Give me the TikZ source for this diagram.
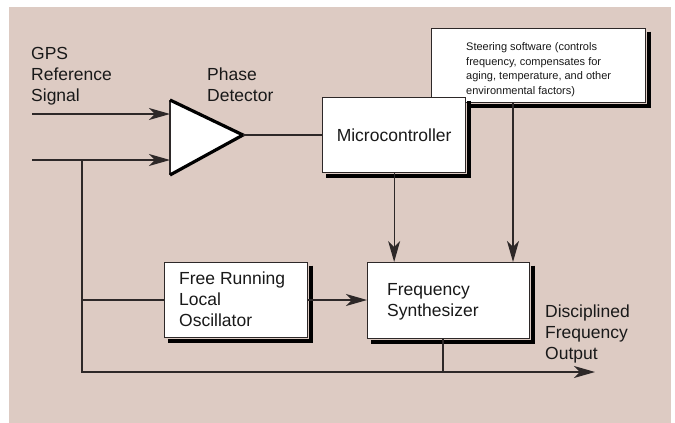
\documentclass[tikz,border=0pt]{standalone}
\usepackage{fontspec}
\setmainfont{Liberation Sans}
\usetikzlibrary{arrows.meta,calc}
\definecolor{bgc}{RGB}{221,203,195}
\definecolor{ln}{RGB}{45,40,40}
\begin{document}
\begin{tikzpicture}[x=1pt,y=-1pt,
  box/.style={draw=ln,line width=1.3pt,fill=white,anchor=north west,inner sep=0pt},
  boxshadow/.style={fill=black},
  shadowline/.style={draw=black,line width=3.6pt,line cap=butt,line join=miter},
  lbl/.style={anchor=base west,inner sep=0pt,align=left,font=\fontsize{17.5}{21}\selectfont,text=black!90},
  small/.style={anchor=base west,inner sep=0pt,align=left,font=\fontsize{11}{14.5}\selectfont,text=black!90},
  wire/.style={draw=ln,line width=1.3pt},
  arr/.style={wire,-{Stealth[length=21pt,width=12pt,inset=6pt]}}]
\useasboundingbox (0,0) rectangle (675,423);
\fill[bgc] (9,7) rectangle (671,423);

% labels (anchored at the baseline of their last line)
\node[lbl] (gps) at (31,101) {GPS\\Reference\\Signal};
\node[lbl] (pdl) at (207,101) {Phase\\Detector};
\node[lbl] (dfo) at (545,359) {Disciplined\\Frequency\\Output};

% boxes
\node[box,minimum width=214pt,minimum height=74pt] (steer) at (431,28) {};
\node[small] (steertxt) at (466,94) {Steering software (controls\\frequency, compensates for\\aging, temperature, and other\\environmental factors)};
\node[box,minimum width=143pt,minimum height=75pt,font=\fontsize{17.5}{21}\selectfont,text=black!90] (micro) at (322,97) {Microcontroller};
\node[box,minimum width=143pt,minimum height=75pt] (fr) at (164,262) {};
\node[lbl] (frtxt) at (179,326) {Free Running\\Local\\Oscillator};
\node[box,minimum width=162pt,minimum height=76pt] (fs) at (367,262) {};
\node[lbl] (fstxt) at (387,316) {Frequency\\Synthesizer};

% drop shadows (right and bottom strips), drawn after all boxes
\foreach \b in {micro,fr,fs}{
  \draw[shadowline] ($(\b.north east)+(2.45,3.5)$) -- ($(\b.south east)+(2.45,2.45)$) -- ($(\b.south west)+(3.5,2.45)$);
}
\draw[shadowline] ($(steer.north east)+(2.45,3.5)$) -- ($(steer.south east)+(2.45,2.45)$) -- ($(micro.north east |- steer.south)+(0.7,2.45)$);

% phase detector triangle
\coordinate (pdin1) at (170,114);
\coordinate (pdin2) at (170,160);
\coordinate (pdout) at (243,135);
\fill[white] (170,100) -- (pdout) -- (170,175) -- cycle;
\draw[ln,line width=1.3pt] (170,100) -- (170,175);
\draw[black,line width=3.2pt,line join=miter] (170,100) -- (pdout) -- (170,175);

% inputs and wires
\coordinate (in1) at (32,114);
\coordinate (in2) at (32,160);
\coordinate (j1) at (82,160);
\coordinate (j2) at (82,300);
\coordinate (j3) at (82,372);
\coordinate (j4) at (443,372);
\coordinate (outend) at (595,372);
\draw[arr] (in1) -- (pdin1);
\draw[arr] (in2) -- (pdin2);
\draw[wire] (pdout) -- (micro.west |- pdout);
\draw[wire] (j1) -- (j3) -- (j4);
\draw[arr] (j4) -- (outend);
\draw[wire] (j2) -- (fr.west |- j2);
\draw[wire] (fs.south -| j4) -- (j4);
\draw[arr] (fr.east |- j2) -- (fs.west |- j2);
\draw[arr] (micro.south) -- (micro.south |- fs.north);
\draw[arr] ([xshift=82pt]steer.south west) -- ([xshift=146pt]fs.north west);
\end{tikzpicture}
\end{document}
